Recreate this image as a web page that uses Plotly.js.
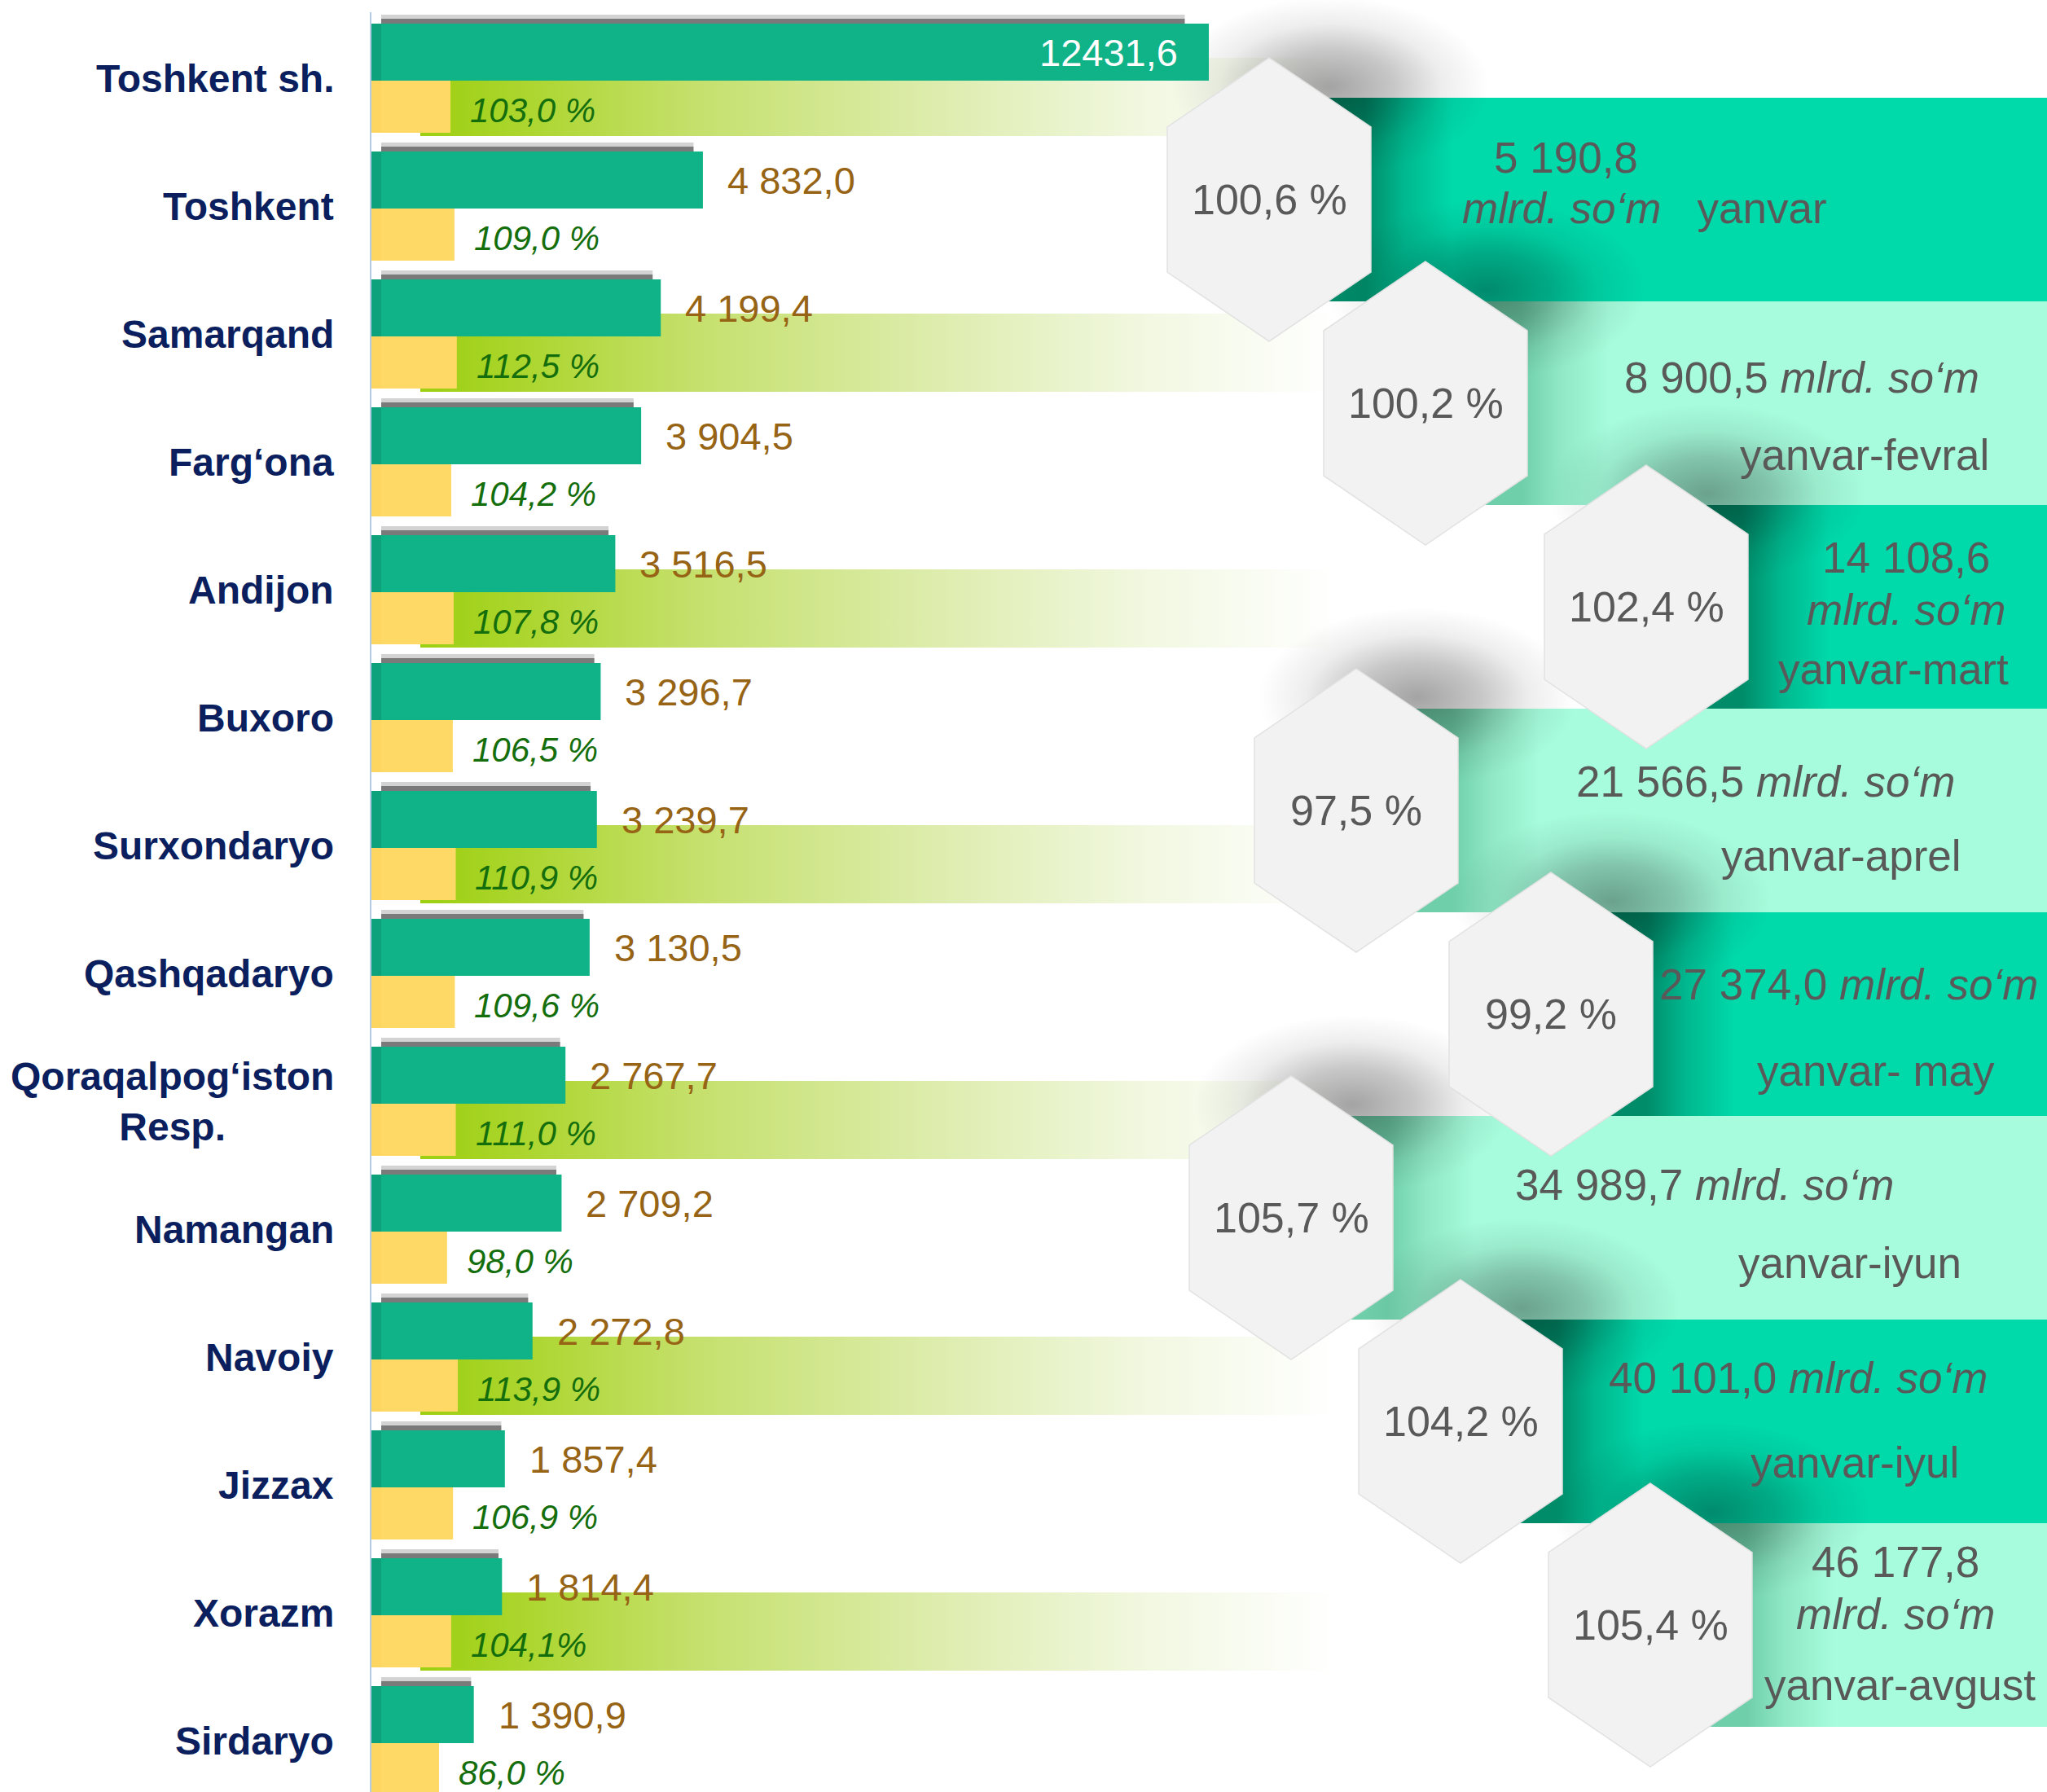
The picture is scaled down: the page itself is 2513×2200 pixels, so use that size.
<!DOCTYPE html>
<html><head><meta charset="utf-8">
<script src="https://cdn.plot.ly/plotly-3.0.1.min.js"></script>
<style>html,body{margin:0;padding:0;background:#fff}</style>
</head><body><div id="chart" style="width:2513px;height:2200px"></div>
<script>
// ---------------- DATA ----------------
const regions = ['Toshkent sh.','Toshkent','Samarqand','Farg‘ona','Andijon','Buxoro','Surxondaryo','Qashqadaryo','Qoraqalpog‘iston<br>Resp.','Namangan','Navoiy','Jizzax','Xorazm','Sirdaryo'];
const values = [12431.6,4832.0,4199.4,3904.5,3516.5,3296.7,3239.7,3130.5,2767.7,2709.2,2272.8,1857.4,1814.4,1390.9];
const growthPct = [103.0,109.0,112.5,104.2,107.8,106.5,110.9,109.6,111.0,98.0,113.9,106.9,104.1,86.0];
const valueLabels = ['12431,6','4 832,0','4 199,4','3 904,5','3 516,5','3 296,7','3 239,7','3 130,5','2 767,7','2 709,2','2 272,8','1 857,4','1 814,4','1 390,9'];
const pctLabels = ['103,0 %','109,0 %','112,5 %','104,2 %','107,8 %','106,5 %','110,9 %','109,6 %','111,0 %','98,0 %','113,9 %','106,9 %','104,1%','86,0 %'];

const periods = ['yanvar','yanvar-fevral','yanvar-mart','yanvar-aprel','yanvar- may','yanvar-iyun','yanvar-iyul','yanvar-avgust'];
const cumRevenue = [5190.8,8900.5,14108.6,21566.5,27374.0,34989.7,40101.0,46177.8];
const cumGrowth = [100.6,100.2,102.4,97.5,99.2,105.7,104.2,105.4];
const unitText = 'mlrd. so‘m';

// ---------------- LAYOUT CONSTANTS (pixels) ----------------
const W = 2513, H = 2200, ML = 455, PW = W - ML;
const ZERO_PX = 468, KG = 0.08173, KY = 0.825;
const ROW = 157, ROW0 = 99, GH = 70, YH = 64;
const FONT = 'Liberation Sans, Arial, sans-serif';
const hexCx = [1558, 1750, 2021, 1665, 1904, 1585, 1793, 2026];
const RIB_TOP = 120, RIB_H = 250;
const HW = 125, HH = 174, HC = 89;
const ribbonLines = [
  [['v',1922,194],['u+p',2019,256]],
  [['v+u',2212,463],['p',2289,558]],
  [['v',2340,684],['u',2340,748],['p',2324,821]],
  [['v+u',2167,960],['p',2260,1050]],
  [['v+u',2269,1208],['p',2303,1314]],
  [['v+u',2092,1454],['p',2271,1550]],
  [['v+u',2207,1691],['p',2277,1795]],
  [['v',2327,1917],['u',2327,1981],['p',2332,2068]]
];

const pxX = px => (px - ML) / PW;
const pxY = py => 1 - py / H;
const dx = px => (px - ZERO_PX) / KG;
const dy = py => (py - ROW0) / ROW;

function fmtNum(v){
  const s = v.toFixed(1).split('.');
  return s[0].replace(/\B(?=(\d{3})+(?!\d))/g, ' ') + ',' + s[1];
}
const fmtPct = v => fmtNum(v) + ' %';

const idx = regions.map((_, i) => i);
const traces = [];
const rowTopPx = i => ROW0 + i * ROW; // boundary between green and yellow bars

// ---- decoration layer (main subplot, pixel coordinates) ----
idx.filter(i => i % 2 === 0).forEach(i => {
  const x0 = 516, x1 = 1640;
  const y0 = rowTopPx(i) - 28, y1 = rowTopPx(i) + YH + 4;
  traces.push({type:'scatter', mode:'none', x:[x0,x1,x1,x0,x0], y:[y0,y0,y1,y1,y0], fill:'toself',
    fillgradient:{type:'horizontal', colorscale:[[0,'#9ccf10'],[0.12,'#add630'],[0.3,'#c5e06c'],[0.55,'#dcecaa'],[0.8,'#f2f8e2'],[1,'#ffffff']]},
    hoverinfo:'skip', showlegend:false});
});

cumRevenue.forEach((v, k) => {
  const dark = k % 2 === 0;
  const x0 = hexCx[k] + 68, x1 = W + 10;
  const y0 = RIB_TOP + k * RIB_H, y1 = RIB_TOP + (k + 1) * RIB_H;
  traces.push({type:'scatter', mode:'none', x:[x0,x1,x1,x0,x0], y:[y0,y0,y1,y1,y0], fill:'toself',
    fillgradient:{type:'horizontal', start: hexCx[k] + 118, stop: hexCx[k] + 225,
      colorscale: dark ? [[0,'#008c69'],[0.45,'#00b88f'],[1,'#00d9aa']] : [[0,'#6fcfaa'],[0.45,'#90e8c6'],[1,'#a6fcdc']]},
    hoverinfo:'skip', showlegend:false});
});

cumRevenue.forEach((v, k) => {
  const cy = RIB_TOP + k * RIB_H + RIB_H / 2;
  const ecx = hexCx[k] + 75, ecy = cy - HH + 35, rx = 195, ry = 110;
  const xs = [], ys = [];
  for (let t = 0; t <= 72; t++) {
    const a = t / 72 * 2 * Math.PI;
    xs.push(ecx + rx * Math.cos(a)); ys.push(ecy + ry * Math.sin(a));
  }
  traces.push({type:'scatter', mode:'none', x:xs, y:ys, fill:'toself',
    fillgradient:{type:'radial', colorscale:[[0,'rgba(0,0,0,0.36)'],[0.4,'rgba(0,0,0,0.22)'],[0.7,'rgba(0,0,0,0.07)'],[1,'rgba(0,0,0,0)']]},
    hoverinfo:'skip', showlegend:false});
});

// ---- bar layer (overlay subplots, drawn above decorations) ----
traces.push({type:'bar', orientation:'h', x:values, y:idx, xaxis:'x4', yaxis:'y2',
  offset:-(GH + 11) / ROW, width:11 / ROW, marker:{color:'rgba(110,110,110,0.3)', line:{width:0}}, hoverinfo:'skip', showlegend:false});
traces.push({type:'bar', orientation:'h', x:values, y:idx, xaxis:'x4', yaxis:'y2',
  offset:-(GH + 6) / ROW, width:6 / ROW, marker:{color:'rgba(50,50,50,0.55)', line:{width:0}}, hoverinfo:'skip', showlegend:false});
traces.push({type:'bar', orientation:'h', x:values, y:idx, xaxis:'x2', yaxis:'y2',
  offset:-GH / ROW, width:GH / ROW, marker:{color:'#10b287', line:{width:0}}, hoverinfo:'skip', showlegend:false});
traces.push({type:'bar', orientation:'h', x:growthPct, y:idx, xaxis:'x3', yaxis:'y2',
  offset:0, width:YH / ROW, marker:{color:'#fed966', line:{width:0}}, hoverinfo:'skip', showlegend:false});

// ---------------- SHAPES ----------------
const shapes = [];
idx.forEach(i => {
  shapes.push({type:'rect', xref:'paper', yref:'y2', x0:0, x1:pxX(ZERO_PX), y0:i - GH / ROW, y1:i, fillcolor:'#0ea27c', line:{width:0}, layer:'above'});
  shapes.push({type:'rect', xref:'paper', yref:'y2', x0:0, x1:pxX(ZERO_PX), y0:i, y1:i + YH / ROW, fillcolor:'#fcd660', line:{width:0}, layer:'above'});
});
shapes.push({type:'line', xref:'paper', yref:'paper', x0:0, x1:0, y0:pxY(15), y1:0, line:{color:'#b4cbe6', width:2}, layer:'above'});
cumGrowth.forEach((g, k) => {
  const cx = hexCx[k], cy = RIB_TOP + k * RIB_H + RIB_H / 2;
  const pts = [[cx, cy - HH],[cx + HW, cy - HC],[cx + HW, cy + HC],[cx, cy + HH],[cx - HW, cy + HC],[cx - HW, cy - HC]];
  const path = 'M' + pts.map(p => pxX(p[0]).toFixed(5) + ',' + pxY(p[1]).toFixed(5)).join(' L') + ' Z';
  shapes.push({type:'path', xref:'paper', yref:'paper', path:path, fillcolor:'#f2f2f2', line:{color:'#e2e2e2', width:1.5}, layer:'above'});
});

// ---------------- ANNOTATIONS ----------------
const ann = [];
regions.forEach((r, i) => {
  ann.push({xref:'paper', yref:'y2', x:pxX(412), y:i, xanchor:'right', yanchor:'middle', yshift:3, align:'center',
    showarrow:false, text:r, font:{family:FONT, size:48, color:'#0b1f5e', weight:'bold'}});
  const inside = values[i] > 8000;
  ann.push({xref:'x2', yref:'y2', x:values[i], y:i - GH / 2 / ROW, xanchor: inside ? 'right' : 'left', xshift: inside ? -36 : 28,
    yanchor:'middle', showarrow:false, text:valueLabels[i], font:{family:FONT, size:47, color: inside ? '#ffffff' : '#966414'}});
  ann.push({xref:'x3', yref:'y2', x:growthPct[i], y:i + (YH / 2 + 4) / ROW, xanchor:'left', xshift:22, yanchor:'middle',
    showarrow:false, text:'<i>' + pctLabels[i] + '</i>', font:{family:FONT, size:42, color:'#156e0c'}});
});
cumGrowth.forEach((g, k) => {
  const cy = RIB_TOP + k * RIB_H + RIB_H / 2;
  ann.push({xref:'paper', yref:'paper', x:pxX(hexCx[k]), y:pxY(cy), xanchor:'center', yanchor:'middle', showarrow:false,
    text:fmtPct(g), font:{family:FONT, size:52, color:'#595959'}});
  ribbonLines[k].forEach(([kind, px, py]) => {
    let t = '';
    if (kind === 'v') t = fmtNum(cumRevenue[k]);
    else if (kind === 'v+u') t = fmtNum(cumRevenue[k]) + ' <i>' + unitText + '</i>';
    else if (kind === 'u') t = '<i>' + unitText + '</i>';
    else if (kind === 'u+p') t = '<i>' + unitText + '</i>\u00a0\u00a0 ' + periods[k];
    else t = periods[k];
    ann.push({xref:'paper', yref:'paper', x:pxX(px), y:pxY(py), xanchor:'center', yanchor:'middle', showarrow:false,
      text:t, font:{family:FONT, size:53, color:'#595959'}});
  });
});

const layout = {
  width:W, height:H, margin:{l:ML, r:0, t:0, b:0},
  paper_bgcolor:'#ffffff', plot_bgcolor:'rgba(0,0,0,0)',
  barmode:'overlay', showlegend:false, hovermode:false,
  xaxis:{domain:[0,1], range:[ML, W], visible:false, fixedrange:true},
  yaxis:{domain:[0,1], range:[H, 0], visible:false, fixedrange:true},
  xaxis2:{overlaying:'x', range:[dx(ML), dx(W)], visible:false, fixedrange:true},
  xaxis3:{overlaying:'x', range:[(ML - ZERO_PX) / KY, (W - ZERO_PX) / KY], visible:false, fixedrange:true},
  xaxis4:{overlaying:'x', range:[dx(ML) * 1.03, dx(W) * 1.03], visible:false, fixedrange:true},
  yaxis2:{overlaying:'y', range:[dy(H), dy(0)], visible:false, fixedrange:true},
  shapes:shapes, annotations:ann
};
Plotly.newPlot('chart', traces, layout, {staticPlot:true, displayModeBar:false});
</script></body></html>
